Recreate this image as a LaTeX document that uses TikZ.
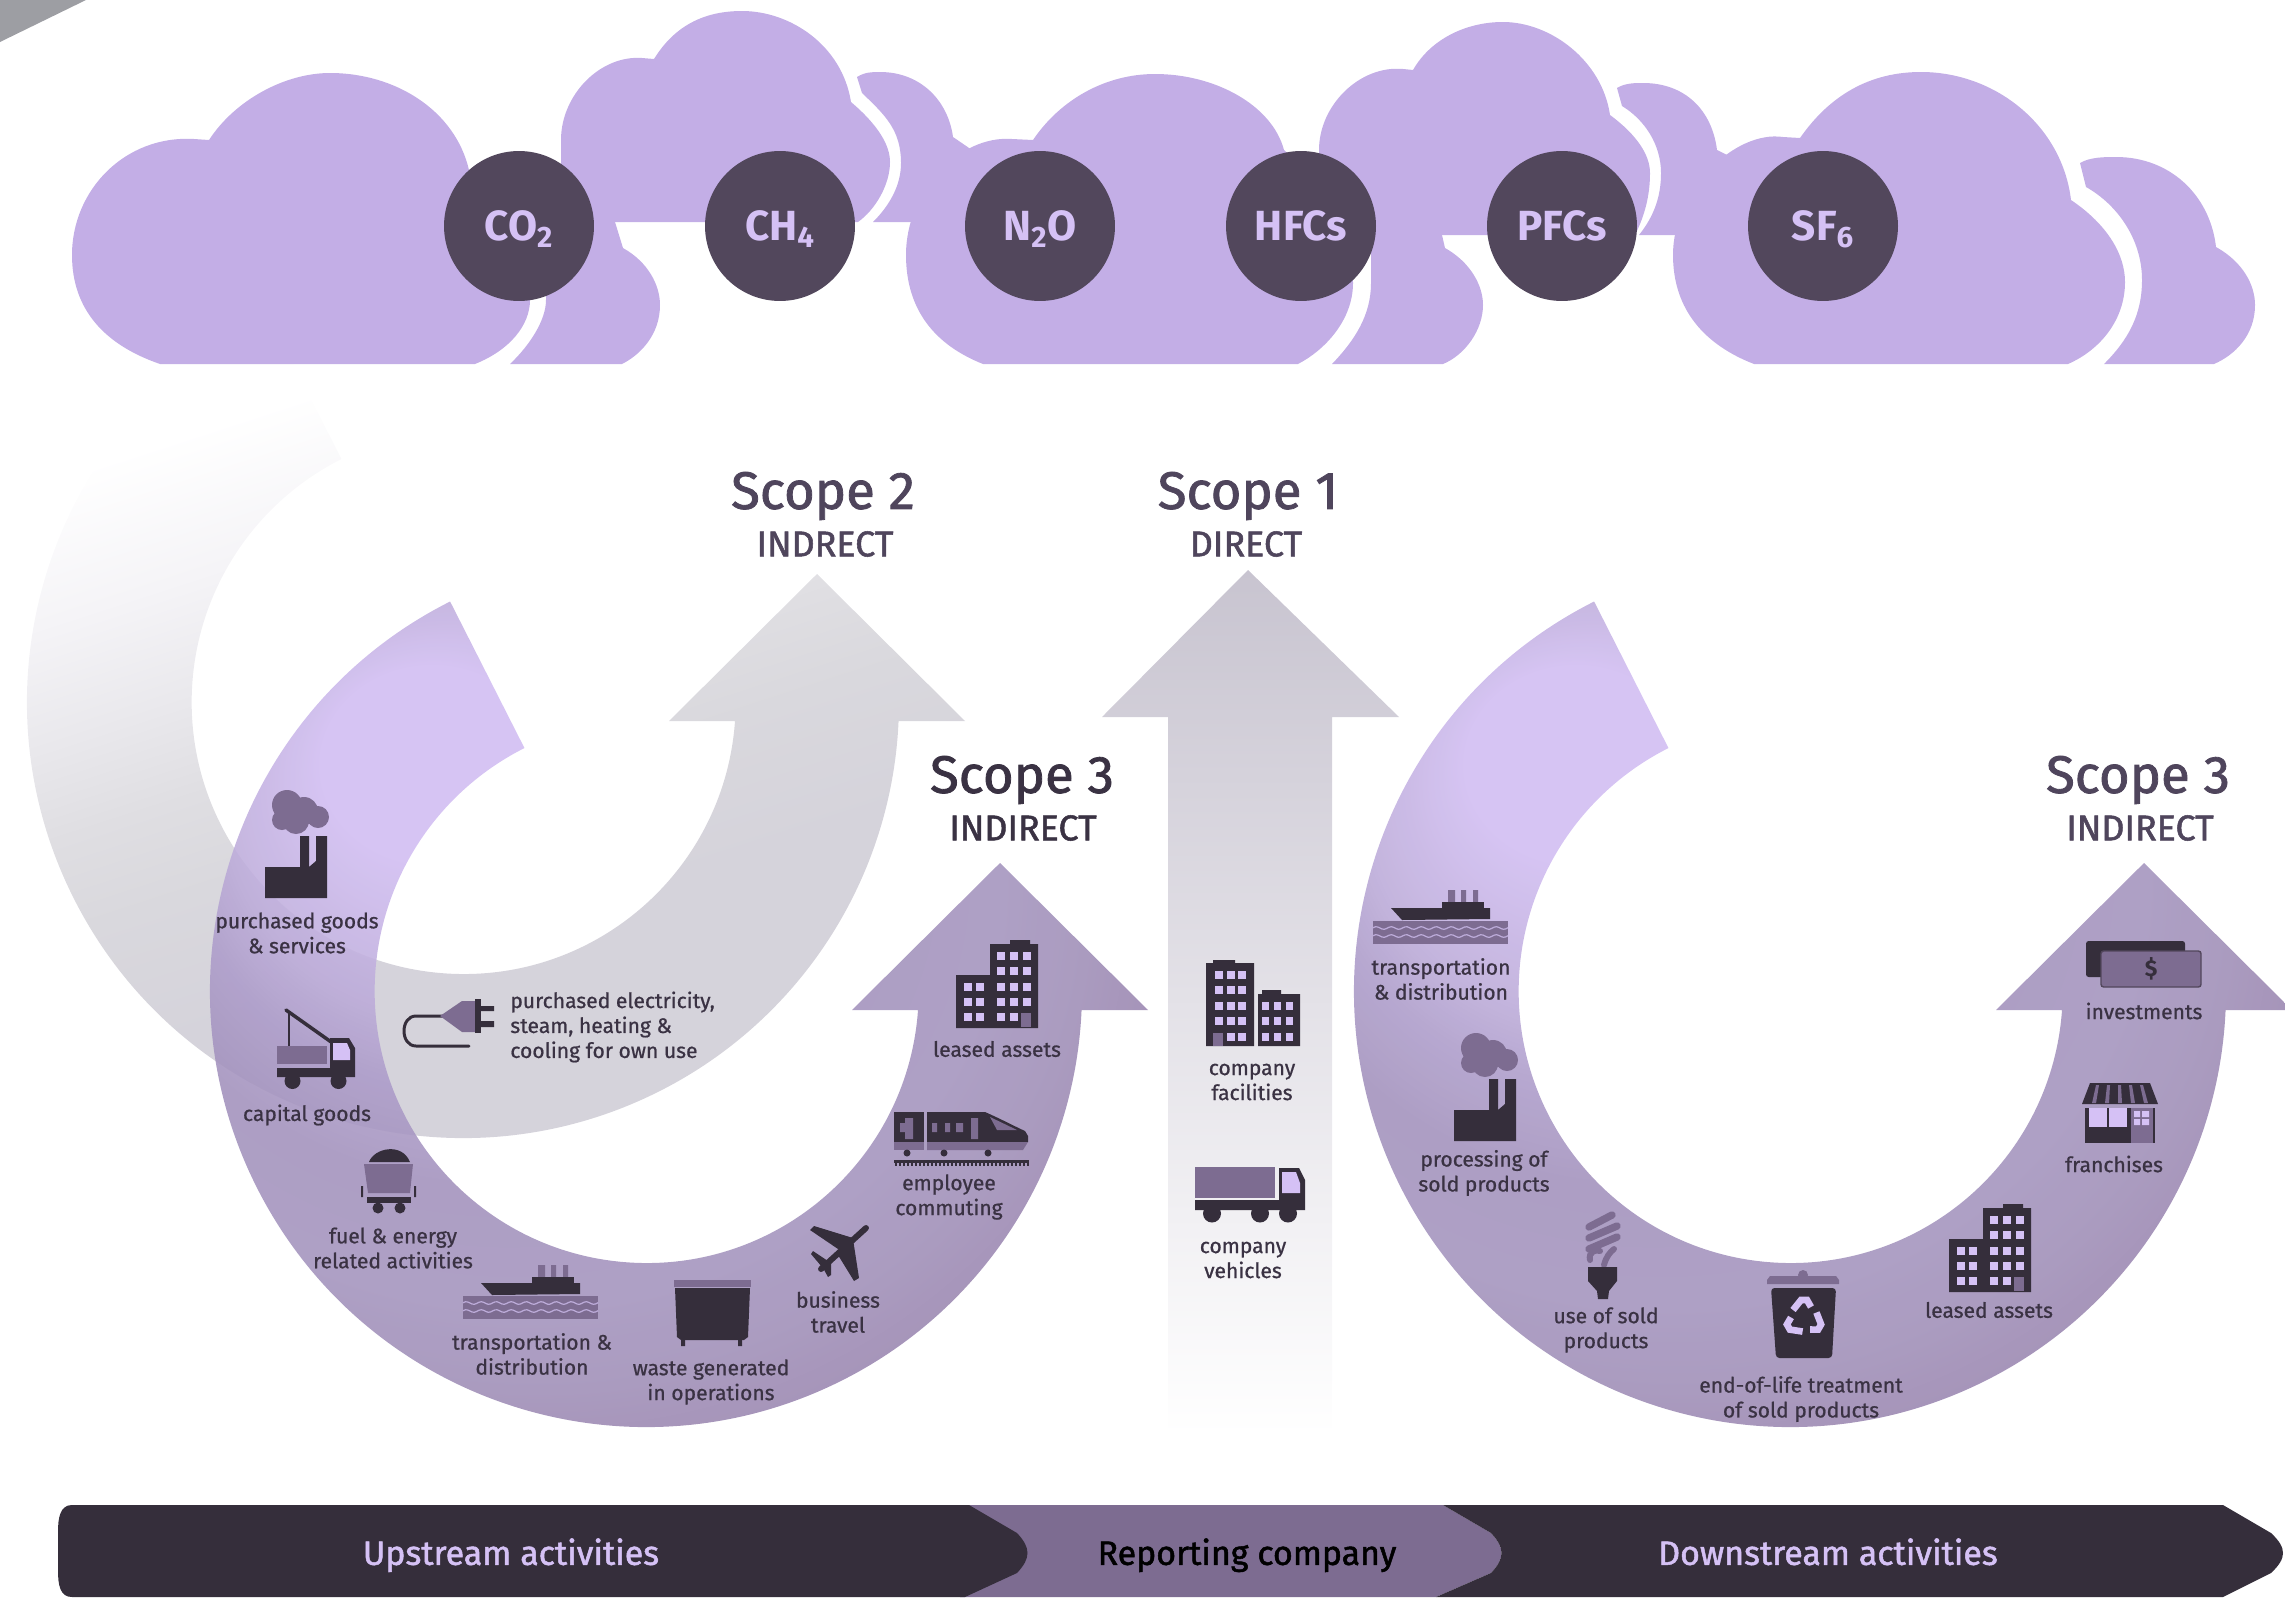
\documentclass[tikz,border=0pt]{standalone}
\usepackage{fontspec}
\setmainfont{Fira Sans}
\usetikzlibrary{positioning}

\definecolor{cloudlilac}{HTML}{C3AEE6}
\definecolor{gasdark}{HTML}{52475C}
\definecolor{paletext}{HTML}{D5C1F5}
\definecolor{headtext}{HTML}{4F455C}
\definecolor{labeltext}{HTML}{3A3243}
\definecolor{icondark}{HTML}{352E3B}
\definecolor{iconmid}{HTML}{7D6C91}
\definecolor{iconlight}{HTML}{D5C1F5}
\definecolor{cornergrey}{HTML}{9D9EA3}
\definecolor{arrowtop}{HTML}{C8C4D0}
\definecolor{arrowmid}{HTML}{DAD7E4}

\definecolor{ringA}{HTML}{D0BCF1}
\definecolor{ringB}{HTML}{BCABD9}
\definecolor{ringC}{HTML}{AD9CCA}
\definecolor{ringD}{HTML}{A291BC}
\definecolor{ringE}{HTML}{A393BD}
\definecolor{ringF}{HTML}{9E8DB6}
\definecolor{ringG}{HTML}{9984AF}
\definecolor{greyA}{HTML}{F5F4F7}
\definecolor{greyB}{HTML}{E9E8EC}
\definecolor{greyC}{HTML}{DFDEE2}
\definecolor{greyD}{HTML}{D9D8DD}
\definecolor{greyE}{HTML}{D5D3DB}

\pgfdeclareradialshading{ringfade}{\pgfpoint{-12.2bp}{17.8bp}}{color(0bp)=(ringA); color(5.5bp)=(ringA); color(12bp)=(ringB); color(15bp)=(ringC); color(19bp)=(ringD); color(24bp)=(ringE); color(27.5bp)=(ringF); color(30.5bp)=(ringG); color(50bp)=(ringG)}
\pgfdeclareverticalshading{greyfade}{100bp}{color(0bp)=(greyE); color(40bp)=(greyE); color(47.5bp)=(greyD); color(52.5bp)=(greyC); color(57.5bp)=(greyB); color(64bp)=(greyA); color(71.5bp)=(white); color(100bp)=(white)}

% curved arrow, centre of the ring at the origin
\newcommand{\ringarrowpath}{(243.3:436) arc[start angle=243.3,end angle=2.5,radius=436]
  -- (502,19) -- (354,-128) -- (206,19) -- (272,19)
  arc[start angle=4,end angle=243.3,radius=272] -- cycle}

\tikzset{
  cloudpart/.style={fill=cloudlilac},
  gas/.style={circle, fill=gasdark, text=paletext, minimum size=3cm, inner sep=0pt, text height=16.5pt, text depth=0pt, font=\fontsize{24}{26}\selectfont\bfseries},
  scopename/.style={text=headtext, inner sep=0pt, font=\fontsize{30}{32}\selectfont\addfontfeature{FakeBold=1.5}},
  scopekind/.style={text=headtext, inner sep=0pt, font=\fontsize{20.4}{22}\selectfont\addfontfeature{FakeBold=1.5}},
  iconlabel/.style={text=labeltext, align=center, inner sep=0pt, font=\fontsize{12}{14.2}\selectfont\addfontfeature{FakeBold=0.8}},
  barlabel/.style={inner sep=0pt, text height=13.5pt, text depth=0pt, font=\fontsize{19.3}{24}\selectfont\addfontfeature{FakeBold=1.5}},
  factoryicon/.pic={
    \fill[iconmid] (-9,-62) circle (15) (-14,-47) circle (10) (8,-56) circle (14) (22,-50) circle (11) (0,-46) circle (13);
    \fill[icondark] (-31,0) -- (4,0) -- (4,-31) -- (13,-31) -- (13,0) -- (20,-6) -- (20,-31) -- (31,-31) -- (31,31) -- (-31,31) -- cycle;
  },
  craneicon/.pic={
    \draw[icondark, line width=1.2pt] (-27,-38) -- (-27,-4);
    \draw[icondark, line width=2pt, line cap=round] (-30,-40) -- (18,-6);
    \fill[iconmid] (-39,-4) rectangle (11,14);
    \fill[icondark] (14,-12) -- (33,-12) -- (39,-2) -- (39,27) -- (-39,27) -- (-39,18) -- (14,18) -- cycle;
    \fill[iconlight] (17,-7) -- (31,-7) -- (34,0) -- (34,10) -- (17,10) -- cycle;
    \fill[icondark] (-23.5,31) circle (8) (22.5,31) circle (8);
  },
  wagonicon/.pic={
    \fill[icondark] (-19,-18) .. controls (-14,-32) and (14,-38) .. (22,-18) -- cycle;
    \fill[iconmid] (-24,-16) -- (25,-16) -- (22,13) -- (-20,13) -- cycle;
    \fill[icondark] (-21,17) rectangle (23,23);
    \fill[icondark] (-27,6) rectangle (-25,17) (26,6) rectangle (28,17);
    \fill[icondark] (-10,28) circle (5.5) (12,28) circle (5.5);
  },
  shipicon/.pic={
    \fill[iconmid] (8,-27) rectangle (15,-15) (21,-27) rectangle (26,-15) (33,-27) rectangle (38,-15);
    \fill[icondark] (2,-15) rectangle (44,-9);
    \fill[icondark] (-49,-9) -- (50,-9) -- (50,2) -- (-38,3) -- cycle;
    \fill[iconmid] (-67,4) rectangle (68,27);
    \foreach \wavey in {11,19}
      \draw[ringB, line width=0.7pt] plot[domain=-67:68, samples=60] (\x, {\wavey+1.3*sin(\x*24)});
  },
  dumpstericon/.pic={
    \fill[iconmid] (-38,-33) rectangle (39,-26);
    \fill[icondark] (-37,-25) -- (38,-25) -- (36,24) -- (32,27) -- (-31,27) -- (-35,24) -- cycle;
    \fill[icondark] (-31,27) rectangle (-27,33) (26,27) rectangle (30,33);
  },
  planeicon/.pic={
    \draw[icondark, line width=3.4pt, line cap=round] (27,-25) -- (-18,16);
    \fill[icondark] (-29,-23) -- (-25,-27) -- (14,-15) -- (2,-2) -- cycle;
    \fill[icondark] (15,28) -- (20,25) -- (14,-14) -- (-1,2) -- cycle;
    \fill[icondark] (-28,1) -- (-26,-2) -- (-11,8) -- (-17,14) -- cycle;
    \fill[icondark] (-11,24) -- (-8,22) -- (-8,8) -- (-16,15) -- cycle;
  },
  trainicon/.pic={
    \fill[icondark] (-67,-27) rectangle (-37,3);
    \fill[icondark] (-34,-27) -- (24,-27) .. controls (40,-20) and (55,-12) .. (64,-8) -- (67,-3) -- (67,3) -- (-34,3) -- cycle;
    \fill[iconmid] (29,-22) -- (56,-9) -- (36,-9) -- cycle;
    \fill[iconmid] (-61,-16) rectangle (-56,-7) (-56,-21) rectangle (-48,0);
    \fill[iconmid] (-29,-16) rectangle (-24,-7) (-16,-16) rectangle (-11,-7) (-5,-16) rectangle (2,-7) (10,-21) rectangle (17,0);
    \fill[iconmid] (-67,3) rectangle (-37,11);
    \fill[iconmid] (-34,3) -- (67,3) -- (62,11) -- (-34,11) -- cycle;
    \fill[icondark] (-54,14) circle (3.5) (-17,14) circle (3.5) (27,14) circle (3.5);
    \fill[icondark] (-67,21) rectangle (68,24);
    \foreach \tiex in {-66,-62,...,66} \fill[icondark] (\tiex,24) rectangle ++(1.6,3);
  },
  towericon/.pic={
    \fill[icondark] (-7,-40) rectangle (41,44) (13,-44) rectangle (33,-40) (-41,-9) rectangle (-7,44);
    \foreach \wy in {-32,-17,-1,14,29} \foreach \wx in {0,13,26} \fill[iconlight] (\wx,\wy) rectangle ++(8,8);
    \foreach \wy in {-1,14,29} \foreach \wx in {-33,-21} \fill[iconlight] (\wx,\wy) rectangle ++(8,8);
    \fill[iconmid] (24,29) rectangle (34,43);
  },
  facilityicon/.pic={
    \fill[icondark] (-47,-40) rectangle (1,43) (-40,-43) rectangle (-18,-40);
    \fill[icondark] (5,-9) rectangle (47,43) (9,-13) rectangle (28,-9);
    \foreach \wy in {-32,-17,-1,14,30} \foreach \wx in {-38,-26,-15} \fill[iconlight] (\wx,\wy) rectangle ++(8,8);
    \foreach \wy in {-1,14,30} \foreach \wx in {9,21,33} \fill[iconlight] (\wx,\wy) rectangle ++(7,8);
    \fill[iconmid] (-40,30) rectangle (-30,43);
  },
  truckicon/.pic={
    \fill[iconmid] (-55,-28) rectangle (25,3);
    \fill[icondark] (29,-27) -- (49,-27) -- (55,-15) -- (55,15) -- (-55,15) -- (-55,5) -- (29,5) -- cycle;
    \fill[iconlight] (32,-23) -- (46,-23) -- (50,-12) -- (50,-2) -- (32,-2) -- cycle;
    \fill[icondark] (-38,18.5) circle (9) (10,18.5) circle (9) (38,18.5) circle (9);
  },
  plugicon/.pic={
    \draw[icondark, line width=1.7pt, line cap=round] (-5,-7) -- (-33,-7) .. controls (-49,-7) and (-49,23) .. (-33,23) -- (20,23);
    \fill[iconmid] (-9,-7) -- (13,-22) -- (26,-22) -- (26,9) -- (13,9) -- cycle;
    \fill[icondark] (26,-24) rectangle (32,10);
    \fill[icondark] (32,-17) rectangle (45,-12) (32,-2) rectangle (45,4);
  },
  cashicon/.pic={
    \fill[icondark, rounded corners=1.5pt] (-57,-23) rectangle (42,13);
    \fill[iconmid, draw=gasdark, line width=0.8pt, rounded corners=1.5pt] (-42,-13) rectangle (58,23);
  },
  shopicon/.pic={
    \fill[icondark] (-35,-5) rectangle (35,30);
    \fill[icondark] (-30,-30) -- (30,-30) -- (38,-9) -- (-38,-9) -- cycle;
    \foreach \sx in {-22,-11,0,11,22} \fill[iconmid] (\sx-2,-28) -- (\sx+1,-28) -- ({\sx*1.18+2},-10) -- ({\sx*1.18-2},-10) -- cycle;
    \fill[iconlight] (-31,-5) rectangle (7,14);
    \fill[icondark] (-13,-5) rectangle (-11,14);
    \fill[iconmid] (11,-5) rectangle (33,30);
    \fill[iconlight] (14,-2) rectangle (20,4) (22,-2) rectangle (29,4) (14,6) rectangle (20,12) (22,6) rectangle (29,12);
  },
  bulbicon/.pic={
    \draw[iconmid, line width=4.2pt, line cap=round] (-15,-28) -- (8,-40) (-15,-17) -- (13,-29) (-15,-6) -- (13,-18);
    \draw[iconmid, line width=3.4pt, line cap=round] (-14,5) .. controls (-16,-3) and (-8,-6) .. (-4,-4) (0,10) .. controls (2,2) and (6,-3) .. (10,-6);
    \fill[icondark] (-16,12) -- (13,12) -- (13,26) -- (5,36) -- (4,44) -- (-6,44) -- (-7,36) -- (-16,26) -- cycle;
  },
  binicon/.pic={
    \fill[iconmid] (-33,-40) -- (33,-40) -- (36,-36) -- (36,-32) -- (-36,-32) -- (-36,-36) -- cycle;
    \fill[iconmid] (0,-41) circle (5);
    \fill[icondark, rounded corners=2pt] (-32,-28) -- (33,-28) -- (29,42) -- (-27,42) -- cycle;
    \foreach \turn in {0,120,240}
      \draw[iconlight, line width=3.8pt, rotate around={\turn:(1,2)}] (-10,-6) -- (-2,-16) -- (4,-16) -- (8,-9);
  },
}

\begin{document}
\begin{tikzpicture}[x=0.02cm, y=-0.02cm]
  \useasboundingbox (0,0) rectangle (2285,1599);

  % corner
  \fill[cornergrey] (0,0) -- (86,0) -- (0,42) -- cycle;

  % Scope 2 ring, scope 1 arrow
  \begin{scope}[shift={(463,702)}]
    \shade[shading=greyfade, shading angle=18] \ringarrowpath;
  \end{scope}
  \shade[top color=arrowtop, middle color=arrowmid, bottom color=white] (1248,570) -- (1399,717) -- (1332,717) -- (1332,1435) -- (1168,1435) -- (1168,717) -- (1102,717) -- cycle;

  % Clouds
  \fill[cloudpart] (160,364) .. controls (105,345) and (72,310) .. (72,255) .. controls (72,190) and (125,135) .. (194,139) -- (209,140) .. controls (235,100) and (285,73) .. (330,73) .. controls (395,73) and (455,110) .. (469,170) .. controls (510,215) and (530,265) .. (530,300) .. controls (530,325) and (510,350) .. (475,364) -- cycle;
  \fill[cloudpart] (510,364) .. controls (530,345) and (546,320) .. (546,300) -- (546,222) -- (615,222) -- (623,248) .. controls (648,262) and (660,285) .. (660,305) .. controls (660,335) and (640,355) .. (622,364) -- cycle;
  \fill[cloudpart] (566,222) .. controls (561,195) and (561,170) .. (561,140) .. controls (561,95) and (600,55) .. (642,58) -- (654,59) .. controls (675,25) and (705,11) .. (742,11) .. controls (790,11) and (842,45) .. (851,102) .. controls (878,125) and (890,145) .. (890,162) .. controls (890,185) and (875,210) .. (858,222) -- cycle;
  \fill[cloudpart] (873,222) .. controls (890,205) and (901,185) .. (901,163) .. controls (901,130) and (885,115) .. (862,93) -- (857,77) .. controls (865,72) and (872,72) .. (880,72) .. controls (920,72) and (948,100) .. (953,137) -- (972,150) -- (972,222) -- cycle;
  \fill[cloudpart] (983,364) .. controls (935,345) and (906,310) .. (906,255) .. controls (906,190) and (960,135) .. (1012,139) -- (1033,140) .. controls (1060,100) and (1105,74) .. (1155,74) .. controls (1215,74) and (1272,105) .. (1284,150) .. controls (1330,190) and (1353,240) .. (1353,283) .. controls (1353,320) and (1325,350) .. (1298,364) -- cycle;
  \fill[cloudpart] (1332,364) .. controls (1355,340) and (1371,315) .. (1371,283) -- (1371,235) -- (1442,235) -- (1445,248) .. controls (1470,262) and (1483,285) .. (1483,305) .. controls (1483,330) and (1465,355) .. (1443,364) -- cycle;
  \fill[cloudpart] (1322,235) .. controls (1319,205) and (1319,180) .. (1319,150) .. controls (1319,105) and (1360,65) .. (1403,69) -- (1413,70) .. controls (1430,40) and (1465,22) .. (1503,22) .. controls (1550,22) and (1602,60) .. (1610,115) .. controls (1637,135) and (1650,155) .. (1650,173) .. controls (1650,195) and (1645,215) .. (1635,235) -- cycle;
  \fill[cloudpart] (1639,235) .. controls (1655,215) and (1661,195) .. (1661,173) .. controls (1661,145) and (1645,120) .. (1622,106) -- (1617,88) .. controls (1625,83) and (1635,83) .. (1643,83) .. controls (1685,83) and (1712,110) .. (1717,150) -- (1727,155) -- (1727,235) -- cycle;
  \fill[cloudpart] (1754,364) .. controls (1705,345) and (1673,310) .. (1673,255) .. controls (1673,190) and (1735,130) .. (1783,137) -- (1800,138) .. controls (1830,95) and (1870,72) .. (1921,72) .. controls (1995,72) and (2062,125) .. (2071,200) .. controls (2108,225) and (2125,255) .. (2125,282) .. controls (2125,320) and (2100,350) .. (2068,364) -- cycle;
  \fill[cloudpart] (2104,364) .. controls (2128,340) and (2142,315) .. (2142,280) .. controls (2142,240) and (2118,205) .. (2086,187) -- (2080,163) .. controls (2090,157) and (2105,157) .. (2116,157) .. controls (2170,157) and (2210,195) .. (2216,247) .. controls (2243,262) and (2255,285) .. (2255,305) .. controls (2255,335) and (2235,355) .. (2214,364) -- cycle;

  % Gases
  \node[gas] (co2) at (519,226) {CO\textsubscript{2}};
  \node[gas] (ch4) at (780,226) {CH\textsubscript{4}};
  \node[gas] (n2o) at (1040,226) {N\textsubscript{2}O};
  \node[gas] (hfcs) at (1301,226) {HFCs};
  \node[gas] (pfcs) at (1562,226) {PFCs};
  \node[gas] (sf6) at (1823,226) {SF\textsubscript{6}};

  % Scope 3 rings
  \begin{scope}[shift={(646,991)}]
    \shade[shading=ringfade, opacity=0.88] \ringarrowpath;
  \end{scope}
  \begin{scope}[shift={(1790,991)}]
    \shade[shading=ringfade, opacity=0.88] \ringarrowpath;
  \end{scope}

  % Icons
  \pic (goods) at (296,867) {factoryicon};
  \pic (capital) at (316,1050) {craneicon};
  \pic (fuel) at (388,1180) {wagonicon};
  \pic (shipleft) at (530,1292) {shipicon};
  \pic (waste) at (712,1313) {dumpstericon};
  \pic (plane) at (839,1253) {planeicon};
  \pic (train) at (961,1139) {trainicon};
  \pic (leasedleft) at (997,984) {towericon};
  \pic (plug) at (449,1023) {plugicon};
  \pic (facility) at (1253,1003) {facilityicon};
  \pic (truck) at (1250,1195) {truckicon};
  \pic (shipright) at (1440,917) {shipicon};
  \pic (process) at (1485,1110) {factoryicon};
  \pic (bulb) at (1604,1255) {bulbicon};
  \pic (bin) at (1803,1316) {binicon};
  \pic (leasedright) at (1990,1248) {towericon};
  \pic (shop) at (2120,1113) {shopicon};
  \pic (cash) at (2143,964) {cashicon};
  \node[text=icondark, inner sep=0pt, font=\fontsize{13}{14}\selectfont\bfseries] (dollar) at (2151,969) {\$};

  % Labels
  \node[iconlabel] (goodslabel) at (297,933) {purchased goods\\\& services};
  \node[iconlabel] (capitallabel) at (307,1115) {capital goods};
  \node[iconlabel] (fuellabel) at (393,1248) {fuel \& energy\\related activities};
  \node[iconlabel] (shipleftlabel) at (532,1354) {transportation \&\\distribution};
  \node[iconlabel] (wastelabel) at (711,1382) {waste generated\\in operations};
  \node[iconlabel] (planelabel) at (838,1312) {business\\travel};
  \node[iconlabel] (trainlabel) at (949,1197) {employee\\commuting};
  \node[iconlabel] (leasedleftlabel) at (997,1049) {leased assets};
  \node[iconlabel, align=left, anchor=west] (pluglabel) at (510,1027) {purchased electricity,\\steam, heating \&\\cooling for own use};
  \node[iconlabel] (facilitylabel) at (1252,1082) {company\\facilities};
  \node[iconlabel] (trucklabel) at (1243,1260) {company\\vehicles};
  \node[iconlabel] (shiprightlabel) at (1441,979) {transportation\\\& distribution};
  \node[iconlabel] (processlabel) at (1484,1173) {processing of\\sold products};
  \node[iconlabel] (bulblabel) at (1606,1330) {use of sold\\products};
  \node[iconlabel] (binlabel) at (1801,1399) {end-of-life treatment\\of sold products};
  \node[iconlabel] (leasedrightlabel) at (1989,1310) {leased assets};
  \node[iconlabel] (shoplabel) at (2114,1164) {franchises};
  \node[iconlabel] (cashlabel) at (2144,1011) {investments};

  % Scope headings
  \node[scopename] (scopetwo) at (823,496) {Scope 2};
  \node[scopekind] (scopetwokind) at (825,544) {INDRECT};
  \node[scopename] (scopeone) at (1248,496) {Scope 1};
  \node[scopekind] (scopeonekind) at (1246,544) {DIRECT};
  \node[scopename, text=labeltext] (scopethreeup) at (1022,780) {Scope 3};
  \node[scopekind, text=labeltext] (scopethreeupkind) at (1023,828) {INDIRECT};
  \node[scopename] (scopethreedown) at (2138,780) {Scope 3};
  \node[scopekind] (scopethreedownkind) at (2140,828) {INDIRECT};

  % Bottom bar
  \fill[iconmid] (960,1505) -- (1443,1505) -- (1491,1533) .. controls (1505,1548) and (1505,1558) .. (1491,1573) -- (1436,1597) -- (960,1597) -- cycle;
  \fill[icondark] (72,1505) -- (969,1505) -- (1017,1533) .. controls (1031,1548) and (1031,1558) .. (1017,1573) -- (965,1597) -- (72,1597) .. controls (60,1597) and (58,1585) .. (58,1570) -- (58,1532) .. controls (58,1518) and (60,1505) .. (72,1505) -- cycle;
  \fill[icondark] (1443,1505) -- (2223,1505) -- (2271,1533) .. controls (2287,1548) and (2287,1558) .. (2271,1573) -- (2223,1597) -- (1436,1597) -- (1491,1573) .. controls (1505,1558) and (1505,1548) .. (1491,1533) -- cycle;
  \node[barlabel, text=paletext] (upstream) at (511,1553) {Upstream activities};
  \node[barlabel, text=black] (reporting) at (1247,1553) {Reporting company};
  \node[barlabel, text=paletext] (downstream) at (1828,1553) {Downstream activities};
\end{tikzpicture}
\end{document}
